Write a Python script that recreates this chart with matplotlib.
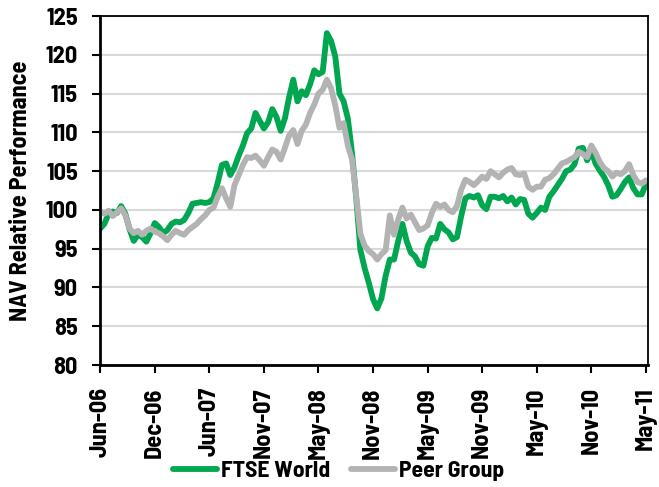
import numpy as np
import matplotlib
matplotlib.use("Agg")
import matplotlib.pyplot as plt

# weekly NAV relative performance, sampled every 2 weeks (Jun-06 .. May-11)
ftse_world = [
    97.6, 98.2, 99.5, 99.8, 99.6, 100.5, 99.5, 97.5, 96.0, 96.8,
    96.5, 95.9, 97.0, 98.3, 97.8, 97.0, 97.4, 98.2, 98.5, 98.4,
    98.7, 99.6, 100.8, 100.9, 101.0, 100.9, 101.0, 101.5, 103.5, 105.8,
    106.0, 104.5, 105.5, 107.0, 108.3, 109.9, 110.5, 112.5, 111.5, 110.5,
    111.3, 113.0, 112.0, 110.2, 111.8, 114.5, 116.8, 114.0, 115.3, 114.8,
    116.2, 118.0, 117.5, 117.8, 122.8, 121.8, 119.8, 115.0, 114.0, 111.8,
    107.3, 101.5, 94.8, 92.5, 90.6, 88.5, 87.3, 88.6, 91.5, 93.6,
    93.6, 96.0, 98.2, 96.0, 94.5, 94.0, 93.0, 92.8, 95.3, 96.4,
    96.3, 98.2, 97.5, 97.1, 96.2, 96.5, 99.2, 101.5, 101.8, 101.6,
    101.9, 100.6, 100.1, 101.7, 101.7, 101.5, 101.8, 101.1, 101.6, 100.7,
    101.4, 101.3, 99.5, 99.0, 99.6, 100.3, 100.0, 101.7, 102.4, 103.2,
    104.0, 105.0, 105.2, 105.9, 107.9, 108.0, 106.4, 107.6, 106.0, 105.1,
    104.3, 103.2, 101.7, 101.9, 102.7, 103.6, 104.2, 102.8, 102.0, 102.0,
    103.3,
]
peer_group = [
    99.8, 99.5, 99.9, 99.2, 99.7, 100.2, 99.3, 97.6, 97.0, 97.3,
    96.8, 97.3, 97.6, 97.2, 97.0, 96.6, 96.1, 96.8, 97.3, 97.0,
    96.8, 97.4, 97.8, 98.2, 98.8, 99.3, 100.0, 100.3, 101.7, 102.8,
    101.5, 100.4, 103.2, 104.5, 105.8, 106.8, 106.7, 107.0, 106.4, 105.7,
    106.8, 107.8, 107.5, 106.5, 108.0, 109.6, 110.3, 108.5, 110.2, 111.0,
    112.5, 113.6, 115.0, 115.5, 116.8, 115.7, 113.5, 110.6, 111.2, 108.3,
    106.5, 101.8, 96.9, 95.4, 94.7, 94.3, 93.6, 94.3, 94.8, 99.3,
    96.8, 98.8, 100.3, 98.9, 99.4, 98.4, 97.4, 97.6, 98.0, 99.6,
    100.8, 100.4, 100.7, 100.0, 99.7, 100.5, 102.6, 103.9, 103.6, 103.2,
    103.7, 104.3, 104.0, 105.0, 104.6, 104.2, 104.8, 105.2, 105.4, 104.6,
    104.5, 104.7, 103.0, 102.6, 103.0, 103.0, 103.9, 104.1, 104.6, 105.3,
    106.0, 106.2, 106.5, 106.8, 107.5, 107.2, 106.8, 108.3, 107.4, 106.2,
    105.4, 105.0, 104.3, 104.8, 104.6, 105.0, 105.9, 104.5, 103.6, 103.4,
    103.8,
]
tick_labels = ['Jun-06', 'Dec-06', 'Jun-07', 'Nov-07', 'May-08', 'Nov-08',
               'May-09', 'Nov-09', 'May-10', 'Nov-10', 'May-11']

weeks = np.arange(len(ftse_world)) * 2
tick_pos = np.arange(len(tick_labels)) * 26

plt.rcParams['font.family'] = ['Barlow Semi Condensed', 'DejaVu Sans']
plt.rcParams['font.weight'] = 'bold'

fig = plt.figure(figsize=(6.59, 4.87), dpi=100)
ax = fig.add_axes([0.152, 0.2505, 0.8313, 0.7165])

ax.plot(weeks, ftse_world, color='#00A650', linewidth=4.2, label='FTSE World',
        solid_joinstyle='round', solid_capstyle='round')
ax.plot(weeks, peer_group, color='#B3B3B3', linewidth=4.2, label='Peer Group',
        solid_joinstyle='round', solid_capstyle='round')

ax.set_ylim(80, 125)
ax.set_yticks(np.arange(80, 126, 5))
ax.set_xlim(0, 261)
ax.set_xticks(tick_pos)
ax.set_xticklabels(tick_labels, rotation=90)

ax.grid(axis='y', color='#D9D9D9', linewidth=1.5)
ax.set_axisbelow(True)

for side in ['left', 'bottom']:
    ax.spines[side].set_linewidth(2.0)
for side in ['top', 'right']:
    ax.spines[side].set_linewidth(1.3)

ax.tick_params(axis='both', labelsize=17.5, width=1.5, length=6, direction='out')
ax.tick_params(axis='x', pad=10)
ax.tick_params(axis='y', pad=10)
ax.set_ylabel('NAV Relative Performance', fontsize=17.5, fontweight='bold', labelpad=10)

fig.legend(loc='center', bbox_to_anchor=(0.514, 0.033), ncol=2, frameon=False,
           fontsize=17, handlelength=1.85, handletextpad=0.16, columnspacing=0.9,
           borderaxespad=0, borderpad=0)

fig.savefig('out.png', dpi=100)
